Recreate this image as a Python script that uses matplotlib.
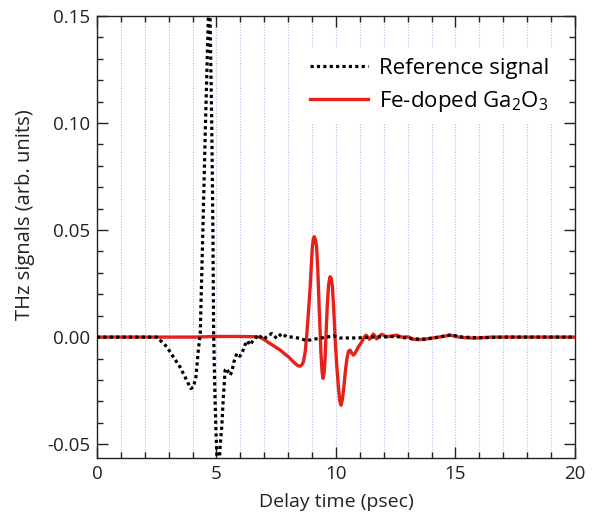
import matplotlib
matplotlib.use("Agg")
import matplotlib.pyplot as plt
from matplotlib.ticker import MultipleLocator, FixedLocator, FuncFormatter

plt.rcParams['font.family'] = ['Open Sans', 'DejaVu Sans']
plt.rcParams['mathtext.default'] = 'regular'

# Reference signal (black dotted)
ref_t = [0, 1, 2, 2.5, 2.71, 2.92, 3.19, 3.47, 3.75, 3.92, 4.03, 4.14, 4.24, 4.32,
         4.43, 4.54, 4.66, 4.70, 4.73, 4.80, 4.85, 4.88, 4.91, 4.94, 4.98, 5.01,
         5.06, 5.12, 5.15, 5.22, 5.28, 5.36, 5.43, 5.50, 5.57, 5.64, 5.73, 5.85,
         5.98, 6.05, 6.19, 6.29, 6.40, 6.54, 6.75, 6.96, 7.10, 7.31, 7.52, 7.73,
         7.94, 8.22, 8.49, 8.77, 9.05, 9.61, 9.9, 10.17, 10.87, 11.5, 12.5, 13.2,
         13.7, 14.3, 14.8, 15.3, 16.0, 17.0, 18.0, 19.0, 20.0]
ref_v = [0, 0, 0, 0, -0.0022, -0.0045, -0.0092, -0.0139, -0.0201, -0.0240, -0.0235,
         -0.0185, -0.0060, 0.0017, 0.050, 0.100, 0.150, 0.168, 0.150, 0.100, 0.050,
         0.0017, -0.0139, -0.0294, -0.045, -0.054, -0.065, -0.060, -0.051, -0.042,
         -0.0294, -0.0154, -0.0146, -0.0165, -0.0178, -0.0162, -0.0115, -0.0076,
         -0.0089, -0.0080, -0.0037, -0.0017, -0.0037, -0.0014, 0.0011, -0.0010,
         0.0001, 0.0017, -0.0006, 0.0017, 0.0001, 0.0, -0.0006, -0.0017, -0.0010,
         0.0, 0.0006, -0.0004, -0.0004, 0.0, 0.0003, -0.0008, -0.0010, 0.0, 0.0010,
         0.0, -0.0003, 0.0, 0.0, 0.0, 0.0]

# Fe-doped Ga2O3 (red solid)
fe_t = [0, 2, 4, 5, 6, 6.5, 6.82, 7.0, 7.24, 7.45, 7.66, 7.85, 8.01, 8.15, 8.29,
        8.40, 8.49, 8.57, 8.64, 8.71, 8.77, 8.85, 8.92, 8.97, 9.01, 9.05, 9.09,
        9.14, 9.19, 9.24, 9.29, 9.33, 9.37, 9.42, 9.46, 9.50, 9.54, 9.59, 9.64,
        9.69, 9.75, 9.80, 9.85, 9.91, 9.96, 10.03, 10.10, 10.16, 10.21, 10.27,
        10.33, 10.40, 10.47, 10.53, 10.59, 10.66, 10.73, 10.80, 10.94, 11.08,
        11.18, 11.26, 11.33, 11.40, 11.48, 11.56, 11.63, 11.70, 11.80, 11.91,
        12.00, 12.12, 12.30, 12.54, 12.75, 13.03, 13.24, 13.45, 13.66, 14.01,
        14.36, 14.78, 15.20, 15.76, 16.5, 17.5, 18.5, 20.0]
fe_v = [0, 0, 0, 0.0003, 0.0003, 0.0002, 0.0, -0.0012, -0.0030, -0.0045, -0.0060,
        -0.0078, -0.0092, -0.0108, -0.0123, -0.0133, -0.0136, -0.0130, -0.0115,
        -0.0070, 0.0, 0.0120, 0.0235, 0.0340, 0.0420, 0.0458, 0.0469, 0.0455,
        0.0420, 0.0310, 0.0157, 0.0040, -0.0076, -0.0165, -0.0193, -0.0170,
        -0.0107, 0.0030, 0.0157, 0.0245, 0.0282, 0.0275, 0.0235, 0.0120, 0.0,
        -0.0130, -0.0232, -0.0300, -0.0318, -0.0290, -0.0232, -0.0150, -0.0092,
        -0.0065, -0.0061, -0.0075, -0.0084, -0.0075, -0.0045, -0.0022, 0.0,
        0.0009, 0.0, -0.0010, 0.0, 0.0014, 0.0005, -0.0008, 0.0003, 0.0013,
        0.0008, 0.0001, 0.0005, 0.0009, 0.0, 0.0001, -0.0010, -0.0012, -0.0010,
        -0.0005, 0.0001, 0.0009, -0.0001, -0.0005, 0.0, 0.0, 0.0, 0.0]

x_major = [0, 5, 10, 15, 20]
y_major = [-0.05, 0.00, 0.05, 0.10, 0.15]

fig = plt.figure(figsize=(5.94, 5.12), dpi=100)
ax = fig.add_axes([0.1633, 0.1045, 0.8047, 0.8643])

for t in range(1, 20):
    ax.axvline(t, color='#b8b8e8', lw=0.8, ls=(0, (1, 1.5)), zorder=0)

ax.plot(ref_t, ref_v, color='black', lw=2.3, ls=(0, (1, 1)),
        dash_capstyle='butt', label='Reference signal', zorder=3)
ax.plot(fe_t, fe_v, color='#e8201a', lw=2.4, label='Fe-doped Ga$_2$O$_3$', zorder=2)

ax.set_xlim(0, 20)
ax.set_ylim(-0.0567, 0.15)
ax.xaxis.set_major_locator(FixedLocator(x_major))
ax.xaxis.set_minor_locator(MultipleLocator(1))
ax.yaxis.set_major_locator(FixedLocator(y_major))
ax.yaxis.set_minor_locator(MultipleLocator(0.01))
ax.yaxis.set_major_formatter(FuncFormatter(lambda v, p: f"{v:.2f}".replace('\u2212', '-')))
ax.tick_params(which='both', direction='in', top=True, right=True, width=1.0,
               labelsize=13.5, colors='#222222')
ax.tick_params(which='major', length=8, pad=5)
ax.tick_params(which='minor', length=4.5)
for s in ax.spines.values():
    s.set_linewidth(1.0)
    s.set_color('#222222')

ax.set_xlabel('Delay time (psec)', fontsize=14, color='#222222', labelpad=7)
ax.set_ylabel('THz signals (arb. units)', fontsize=14.5, color='#222222')
ax.yaxis.set_label_coords(-0.13, 0.55)

leg = ax.legend(loc='upper left', bbox_to_anchor=(0.427, 0.925), frameon=True,
                fontsize=16, handlelength=2.6, handletextpad=0.5,
                labelspacing=0.45, borderaxespad=0.0, borderpad=0.4)
leg.get_frame().set_edgecolor('none')
leg.get_frame().set_facecolor('white')
leg.get_frame().set_alpha(1.0)

fig.savefig('out.png', dpi=100)
